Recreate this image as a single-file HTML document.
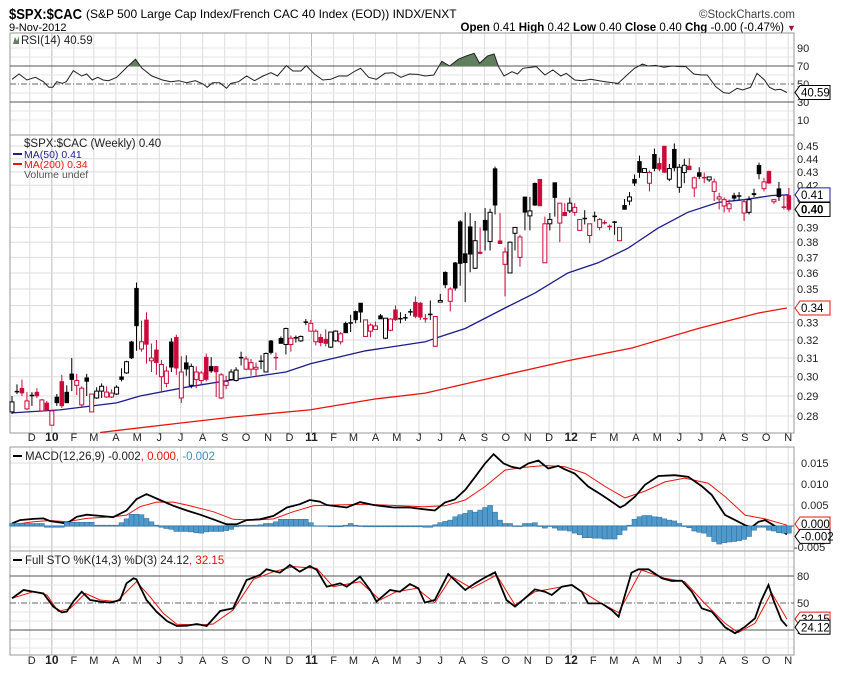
<!DOCTYPE html>
<html><head><meta charset="utf-8">
<style>
html,body{margin:0;padding:0;background:#fff;}
svg{display:block;font-family:"Liberation Sans",sans-serif;}
</style></head>
<body>
<svg id="chart" width="850" height="679" viewBox="0 0 850 679" xmlns="http://www.w3.org/2000/svg">
<rect x="0" y="0" width="850" height="679" fill="#fff"/>
<text x="9" y="19" font-size="15" font-weight="bold" textLength="73" lengthAdjust="spacingAndGlyphs">$SPX:$CAC</text>
<text x="86" y="18" font-size="12">(S&amp;P 500 Large Cap Index/French CAC 40 Index (EOD)) INDX/ENXT</text>
<text x="9" y="31" font-size="11">9-Nov-2012</text>
<text x="795" y="18" font-size="11.5" fill="#444" text-anchor="end">©StockCharts.com</text>
<text x="784" y="31" font-size="11.5" text-anchor="end"><tspan font-weight="bold">Open</tspan> 0.41 <tspan font-weight="bold">High</tspan> 0.42 <tspan font-weight="bold">Low</tspan> 0.40 <tspan font-weight="bold">Close</tspan> 0.40 <tspan font-weight="bold">Chg</tspan> -0.00 (-0.47%)</text>
<text x="787" y="31" font-size="9" fill="#a0143c">▼</text>
<g id="layer"></g>
</svg>
<script>
// ---------- data ----------
const openP=[.282,.2925,.294,.2835,.2905,.292,.2825,.2865,.2755,.2895,.2975,.292,.3015,.2955,.2855,.2995,.282,.289,.2925,.2895,.2895,.291,.300,.302,.319,.3505,.315,.3315,.3085,.3145,.300,.2965,.319,.3215,.289,.3075,.2955,.2985,.298,.3105,.3055,.3055,.289,.2955,.2985,.298,.3105,.304,.304,.304,.3085,.3025,.3195,.3105,.321,.3175,.3175,.3215,.3195,.3305,.325,.319,.3215,.3205,.316,.3195,.319,.3295,.330,.3365,.3415,.322,.325,.326,.334,.321,.3255,.3375,.3325,.333,.3365,.342,.3415,.3325,.335,.3165,.342,.3605,.3425,.3665,.394,.3725,.3905,.363,.3735,.395,.3805,.4325,.381,.3655,.360,.386,.370,.4115,.398,.4215,.4245,.3665,.3925,.422,.393,.4005,.4015,.4005,.388,.3965,.3845,.398,.390,.3935,.391,.394,.381,.4055,.4085,.4245,.438,.4295,.4215,.4435,.4365,.450,.4245,.4475,.4185,.4295,.4345,.418,.4295,.426,.424,.4155,.410,.405,.403,.4125,.4125,.400,.4005,.414,.435,.4175,.4305,.408,.4175,.4045,.4125];
const highP=[.290,.296,.2985,.292,.292,.294,.2885,.2875,.283,.291,.301,.2955,.310,.3015,.295,.3015,.291,.2945,.2965,.295,.2935,.2955,.3045,.3085,.3195,.354,.331,.336,.318,.320,.309,.3055,.321,.323,.311,.3115,.307,.3055,.303,.3125,.3105,.3055,.302,.3005,.304,.305,.3135,.311,.3095,.3075,.3115,.313,.320,.313,.322,.327,.3225,.3225,.3225,.332,.3315,.326,.3235,.326,.3245,.3255,.3245,.3305,.3345,.337,.3415,.3315,.3295,.3305,.335,.3325,.3325,.340,.336,.335,.338,.3455,.342,.335,.343,.3335,.347,.361,.351,.367,.395,.4005,.400,.3945,.390,.4035,.403,.434,.400,.3765,.3805,.390,.385,.4115,.4115,.422,.4245,.3975,.400,.422,.407,.407,.411,.407,.3955,.402,.3925,.401,.3965,.395,.392,.3945,.390,.410,.415,.428,.4425,.4325,.431,.448,.441,.450,.436,.452,.436,.440,.4405,.4265,.4335,.4295,.4265,.425,.4145,.411,.4095,.4145,.415,.4095,.412,.4175,.437,.4255,.431,.410,.4225,.4125,.418];
const lowP=[.281,.291,.290,.283,.285,.289,.282,.2825,.2755,.285,.284,.2865,.2925,.2905,.2845,.290,.282,.2885,.289,.289,.289,.2905,.2975,.3015,.3095,.314,.3135,.307,.3025,.301,.2925,.2945,.3025,.301,.2865,.3005,.294,.294,.296,.2975,.302,.2895,.2885,.2935,.298,.2975,.306,.3035,.3005,.300,.304,.3025,.312,.3035,.318,.312,.3135,.3185,.319,.3285,.325,.317,.3165,.3165,.3155,.319,.3175,.324,.3245,.3295,.330,.322,.3215,.326,.332,.3205,.325,.331,.3295,.331,.334,.3325,.3315,.330,.3315,.316,.342,.3505,.3365,.349,.352,.342,.3605,.3625,.372,.3745,.3745,.399,.379,.3455,.360,.3745,.364,.388,.388,.405,.405,.3665,.388,.3975,.380,.398,.400,.398,.388,.392,.3795,.394,.388,.392,.388,.385,.381,.4025,.4055,.4195,.4255,.4295,.4155,.4305,.4305,.4295,.423,.4305,.4145,.4215,.4315,.4115,.4245,.4215,.4225,.4085,.4025,.4005,.4005,.4085,.409,.3945,.399,.4115,.4245,.4155,.421,.4065,.4085,.4025,.401];
const closeP=[.287,.2925,.2915,.2875,.2905,.290,.288,.283,.2825,.2865,.285,.2865,.2985,.298,.294,.2975,.291,.2925,.295,.292,.2915,.2945,.2985,.308,.310,.328,.319,.3175,.310,.3075,.3065,.303,.305,.3045,.3025,.304,.3055,.3025,.302,.2985,.303,.3025,.301,.2975,.3025,.3035,.3105,.3095,.3075,.305,.3085,.3125,.313,.3105,.318,.3265,.321,.3215,.322,.3305,.3295,.325,.3185,.318,.3245,.325,.3235,.324,.330,.3315,.336,.3315,.3285,.328,.332,.3325,.332,.3315,.3325,.333,.3365,.3335,.333,.3325,.335,.3335,.343,.3525,.350,.3505,.366,.3665,.372,.381,.3725,.388,.4005,.4055,.379,.3735,.380,.390,.3835,.4005,.4015,.4055,.405,.3925,.3955,.411,.407,.398,.407,.404,.3955,.3965,.3925,.398,.3955,.3935,.3905,.394,.390,.4025,.4115,.4215,.4295,.4325,.4295,.4325,.432,.4295,.4325,.433,.4335,.435,.4315,.4255,.4265,.426,.4262,.4225,.4115,.4095,.4065,.4105,.4125,.408,.4095,.413,.4285,.4225,.4215,.4095,.4115,.4045,.4025];
const ma50Week=[0,9.6,21,25.7,35,44.5,55,60,71,83,85,91,99,105,111.6,117.7,123.7,129.7,135.7,141.8,147,152.6,156];
const ma50Val=[.2815,.283,.2865,.290,.2945,.2985,.3025,.307,.314,.319,.321,.3265,.3385,.3475,.360,.3665,.376,.3895,.4005,.4075,.4095,.4125,.413];
const ma200Week=[17.7,33.7,44.4,59.8,72.9,83,96.4,111.6,124.5,137.8,149.8,155.6];
const ma200Val=[.272,.2765,.2795,.283,.2885,.2915,.2995,.3085,.3155,.3265,.3355,.3385];
const rsiWeek=[0,1.4,3.0,4.7,6.3,7.4,8.2,9.0,10.1,10.9,12.3,14.0,15.0,16.1,17.2,18.3,19.4,21.0,23.2,24.8,26.1,28.1,30.2,31.9,33.5,35.1,36.8,38.4,39.2,40.3,41.7,43.1,43.9,45.5,47.1,48.7,50.4,52.0,53.3,55.1,56.4,58.0,59.1,60.7,62.4,64.0,65.6,67.3,68.9,70.0,71.6,73.2,74.9,76.5,78.1,79.8,81.4,83.0,84.7,86.3,87.9,89.6,91.2,92.8,93.9,95.5,96.8,97.7,98.8,100.4,101.5,102.6,104.3,105.3,107.0,108.6,110.2,111.3,113.0,114.6,116.2,117.9,119.5,121.7,123.3,125.0,126.6,127.7,129.3,130.9,132.6,134.2,135.3,136.9,138.5,139.6,141.3,142.9,144.0,145.6,146.7,148.3,149.6,151.1,152.1,153.2,154.3,155.6];
const rsiVal=[55.2,61.1,54.4,57.4,52.6,46.3,46.3,52.6,50.7,52.6,64.8,58.9,61.1,54.4,57.4,54.4,53.7,57.4,69.3,77.4,67.4,58.9,54.4,52.6,53.7,51.5,53.7,50.0,46.3,51.5,51.5,45.2,50.7,52.6,58.9,53.7,58.9,62.6,58.9,70.4,64.4,64.4,70.4,61.1,54.4,55.2,58.9,58.9,64.4,67.4,57.4,55.2,61.9,62.6,57.4,61.1,60.7,58.9,60.0,75.2,70.0,77.4,81.1,84.1,73.0,81.1,83.3,69.3,58.9,63.7,61.1,67.4,68.5,69.3,60.0,65.6,58.9,61.9,54.4,53.7,55.2,53.7,52.2,50.7,58.9,67.4,72.2,70.0,70.7,68.5,70.0,69.3,69.3,61.1,60.0,60.0,47.0,40.4,39.6,45.2,43.3,46.3,61.9,54.4,46.3,43.3,44.1,40.59];
const macdWeek=[0,1.6,4.3,6.3,7.6,11.0,13.0,15.0,17.7,20.3,23.0,25.0,27.0,29.7,32.4,35.1,37.8,40.4,43.1,45.1,47.1,49.8,52.5,55.2,57.8,59.8,61.8,63.2,67.2,69.9,72.6,76.6,79.9,82.6,84.9,86.9,88.9,91.0,93.0,95.0,96.7,98.7,100.3,102.0,103.7,105.7,107.7,109.7,111.0,113.0,115.7,118.4,120.4,122.1,123.1,125.1,127.1,129.8,133.1,135.8,138.5,140.5,143.2,145.2,147.2,148.5,149.9,151.2,153.2,155.6];
const macdVal=[0.6,1.4,1.7,1.8,1.2,0.6,2.2,2.7,2.4,2.1,3.7,6.4,7.6,6.2,4.8,3.7,2.7,1.6,0.4,0.4,1.4,1.6,2.4,4.4,5.2,6.2,5.8,5.0,4.4,5.7,5.0,4.4,4.4,4.0,3.7,5.6,6.3,8.6,11.7,14.9,17.1,14.9,14.1,13.7,14.9,15.6,13.7,14.3,13.5,12.5,9.4,7.4,5.8,4.4,5.0,7.0,9.8,11.9,12.1,11.7,9.5,7.4,2.6,1.4,0.2,-0.3,1.0,1.4,0,-2.0];
const signalWeek=[0,4.3,7.6,11.0,15.0,20.3,23.0,25.7,29.0,32.4,35.1,40.4,44.4,48.5,52.5,56.5,60.5,64.5,71.2,77.9,82.6,86.9,91.0,95.0,99.0,103.0,107.0,111.0,115.1,119.1,123.1,127.1,131.1,135.1,139.8,143.2,147.2,151.2,155.6];
const signalVal=[0.3,1.0,1.3,1.0,1.8,2.2,2.6,4.6,5.7,5.7,5.0,3.4,1.6,1.4,1.7,3.4,4.8,5.0,5.2,4.8,4.6,4.8,6.2,9.4,13.3,14.0,14.4,14.1,12.5,9.4,6.7,8.3,10.5,11.4,10.2,7.0,2.6,1.7,0.2];
const histVal=[0.6,0.6,0.6,0.6,0.6,0.6,0.6,-0.3,-0.3,-0.3,-0.3,0.9,0.9,0.9,0.9,0.9,0.9,0.2,0.2,0.2,0.2,0.2,0.8,1.7,2.8,2.8,2.7,1.8,1.0,0.2,-0.3,-0.6,-0.8,-1.3,-1.3,-1.3,-1.4,-1.6,-1.7,-1.4,-1.3,-1.3,-1.3,-1.1,-0.8,-0.2,0.2,0.2,0.2,0.2,0.3,0.6,0.6,1.0,1.6,1.6,1.6,1.6,1.6,1.6,0.8,0.05,0.05,0.05,-0.2,-0.2,-0.2,0.2,0.6,0.2,0,-0.2,-0.2,-0.2,-0.2,-0.2,-0.2,-0.2,-0.2,-0.2,-0.2,-0.2,-0.2,-0.3,-0.3,0.3,0.8,1.1,1.4,2.2,2.7,3.0,3.7,3.3,3.8,4.4,4.9,3.3,1.4,0.6,0.6,0,0,0.6,0.6,0.8,0,-0.5,0,-0.5,-1.0,-1.0,-1.2,-1.7,-2.1,-2.8,-2.8,-2.9,-2.9,-3.1,-3.1,-3.1,-2.1,-1.0,0.2,1.6,2.2,2.5,2.5,2.2,2.1,1.7,1.4,1.2,0.6,0,-0.4,-1.2,-1.5,-1.7,-2.5,-3.7,-4.3,-4.0,-3.8,-3.7,-3.5,-3.2,-2.5,-1.0,-0.3,-0.3,-1.0,-1.2,-1.6,-1.7,-1.7];
const stoKWeek=[0,2.3,4.3,6.3,8.3,10.0,11.0,12.3,14.0,15.7,17.7,19.7,21.7,23.0,24.4,25.0,27.0,29.0,31.1,33.1,35.1,37.1,39.1,41.8,44.4,47.1,49.8,51.1,53.8,55.8,57.8,59.8,61.2,63.2,65.9,67.2,69.9,71.9,73.2,75.9,77.9,79.9,81.6,82.9,84.9,87.6,91.0,93.0,95.0,97.0,99.3,101.0,103.0,105.0,107.0,108.4,110.4,112.4,114.4,115.7,118.4,120.4,121.8,124.4,125.8,127.8,130.5,132.5,134.5,136.5,138.5,140.5,143.2,145.2,147.2,149.2,150.5,151.9,152.9,154.5,155.6];
const stoKVal=[55.2,64.4,62.6,60.7,46.0,39.6,40.4,51.5,62.6,53.3,51.5,50.4,53.3,71.9,77.4,76.3,53.3,40.4,30.0,24.4,24.8,26.7,24.4,41.1,44.1,75.6,81.1,87.4,83.7,92.2,84.8,91.1,86.7,68.1,71.9,68.1,79.3,64.4,51.5,64.4,62.6,71.1,66.3,50.4,53.3,82.2,64.4,71.9,78.5,84.1,53.3,46.0,55.2,65.2,62.6,58.9,68.1,70.0,62.6,49.6,49.6,42.2,34.8,83.7,87.4,87.4,77.4,74.4,74.8,62.6,44.1,40.4,23.0,16.3,23.7,33.0,53.3,70.0,53.3,31.1,24.12];
const stoDWeek=[0,4.3,7.0,9.3,11.7,14.7,17.7,21.0,25.0,27.7,30.4,33.1,37.8,40.4,44.4,48.5,52.5,56.5,61.2,64.5,69.9,73.9,77.2,81.3,82.9,84.9,88.3,92.3,97.3,101.0,105.0,112.4,117.7,121.8,126.4,131.1,135.1,139.1,143.2,145.8,149.2,152.5,155.6];
const stoDVal=[55.2,62.6,58.9,40.4,44.1,60.7,53.3,51.5,73.7,57.0,38.5,26.3,25.6,26.7,42.2,76.3,84.8,90.4,88.5,68.1,73.7,53.3,62.6,66.3,58.9,50.4,79.3,66.3,81.1,47.8,62.6,70.0,51.5,39.3,86.7,77.4,73.7,49.6,27.4,17.0,27.4,61.5,32.15];
const priceTicks=[0.28,0.29,0.30,0.31,0.32,0.33,0.34,0.35,0.36,0.37,0.38,0.39,0.40,0.41,0.42,0.43,0.44,0.45];
const rsiTicks=[10,30,50,70,90];
const macdTicks=[-5,0,5,10,15];
const stoTicks=[20,50,80];
const monthLabels=["D","10","F","M","A","M","J","J","A","S","O","N","D","11","F","M","A","M","J","J","A","S","O","N","D","12","F","M","A","M","J","J","A","S","O","N"];

// ---------- scales ----------
const L=10,R=794;
const xW=i=>12+i*4.98;
const yP=p=>146+569*Math.log(0.45/p);
const yRSI=v=>129-0.9*v;
const yMACD=v=>526-v*4.2;
const ySTO=v=>648-0.9*v;
const startDate=Date.UTC(2009,10,6);
const xDate=(y,m)=>xW((Date.UTC(y,m,1)-startDate)/864e5/7);

const NS="http://www.w3.org/2000/svg";
const layer=document.getElementById('layer');
function mk(tag,attrs,parent){const e=document.createElementNS(NS,tag);for(const k in attrs)e.setAttribute(k,attrs[k]);(parent||layer).appendChild(e);return e;}
function grp(name){const g=document.createElementNS(NS,'g');


layer.appendChild(g);return g;}
function poly(ws,vs,yf){return ws.map((w,k)=>xW(w).toFixed(1)+','+yf(vs[k]).toFixed(1)).join(' ');}

const panels=[[33,135],[135,433],[447,551],[551,655]];
const gv=grp('vertical-gridlines');
const monthX=[];
for(let k=0;k<monthLabels.length;k++){const mi=11+k;const yr=2009+Math.floor(mi/12);const m=mi%12;monthX.push(xDate(yr,m));}
monthX.forEach((x,k)=>{const yr=monthLabels[k].length>1;panels.forEach(p=>{mk('line',{x1:x,x2:x,y1:p[0],y2:p[1],stroke:yr?'#bbb':'#ddd','stroke-width':1},gv);});});

const gh=grp('horizontal-gridlines');
priceTicks.forEach(t=>mk('line',{x1:L,x2:R,y1:yP(t),y2:yP(t),stroke:'#ddd'},gh));
[10,20,40,60,80,90].forEach(t=>mk('line',{x1:L,x2:R,y1:yRSI(t),y2:yRSI(t),stroke:'#e4e4e4'},gh));
[-5,5,10,15].forEach(t=>mk('line',{x1:L,x2:R,y1:yMACD(t),y2:yMACD(t),stroke:'#ddd'},gh));
[0,10,30,40,60,70,90,100].forEach(t=>mk('line',{x1:L,x2:R,y1:ySTO(t),y2:ySTO(t),stroke:'#e4e4e4'},gh));

const gf=grp('panel-frames');
panels.forEach(p=>{mk('rect',{x:L,y:p[0],width:R-L,height:p[1]-p[0],fill:'none',stroke:'#999'},gf);});

[[441,'month-labels-top'],[664,'month-labels-bottom']].forEach(([yy,nm])=>{const g=grp(nm);monthX.forEach((x,k)=>{const t=mk('text',{x:x+(k===0?2:0),y:yy,'font-size':monthLabels[k].length>1?12:11,'font-weight':monthLabels[k].length>1?'bold':'normal','text-anchor':'middle',fill:'#222'},g);t.textContent=monthLabels[k];});});

// ---------- RSI ----------
const gr=grp('rsi-panel');
[30,70].forEach(v=>mk('line',{x1:L,x2:R,y1:yRSI(v),y2:yRSI(v),stroke:'#555'},gr));
mk('line',{x1:L,x2:R,y1:yRSI(50),y2:yRSI(50),stroke:'#666','stroke-dasharray':'6,2,1,2'},gr);
const cp=mk('clipPath',{id:'above70'},gr);mk('rect',{x:L,y:33,width:R-L,height:yRSI(70)-33},cp);
const rsiFill=mk('polygon',{points:xW(rsiWeek[0])+','+yRSI(70)+' '+poly(rsiWeek,rsiVal,yRSI)+' '+xW(rsiWeek[rsiWeek.length-1])+','+yRSI(70),fill:'#5f7f5f','clip-path':'url(#above70)'},gr);


const rsiLine=mk('polyline',{points:poly(rsiWeek,rsiVal,yRSI),fill:'none',stroke:'#222','stroke-width':1},gr);


rsiTicks.forEach(t=>{const e=mk('text',{x:797,y:yRSI(t)+4,'font-size':11,fill:'#222'},gr);e.textContent=t;});
(function(){const t=mk('text',{x:21,y:44,'font-size':11.5,fill:'#222'},gr);t.textContent='RSI(14) 40.59';mk('polygon',{points:'13,44 15,37 17,41 19,36 19,44',fill:'#5f7f5f'},gr);})();

// ---------- price ----------
const gp=grp('price-panel');
const ma200=mk('polyline',{points:poly(ma200Week,ma200Val,yP),fill:'none',stroke:'#e8140c','stroke-width':1.3},gp);


const ma50=mk('polyline',{points:poly(ma50Week,ma50Val,yP),fill:'none',stroke:'#1c1c8c','stroke-width':1.3},gp);


const gc=grp('candles');
closeP.forEach((c,i)=>{
  const o=openP[i],h=highP[i],l=lowP[i];const prev=i>0?closeP[i-1]:c;
  const col=c<prev?'#cc0a3a':'#000';const x=xW(i);
  const g=document.createElementNS(NS,'g');
  
  
  gc.appendChild(g);
  mk('line',{x1:x,x2:x,y1:yP(h),y2:yP(l),stroke:col,'stroke-width':1},g);
  const top=yP(Math.max(o,c)),bot=yP(Math.min(o,c));
  const hollow=c>o;
  mk('rect',{x:x-2,y:top,width:4,height:Math.max(bot-top,1),fill:hollow?'#fff':col,stroke:col,'stroke-width':hollow?1:0.5},g);
});
priceTicks.forEach(t=>{const e=mk('text',{x:797,y:yP(t)+4,'font-size':11,fill:'#222'},gp);e.textContent=t.toFixed(2);});
function tag(g,y,txt,col,bold,fill){mk('polygon',{points:`795,${y} 800,${y-7} 830,${y-7} 830,${y+7} 800,${y+7}`,fill:fill||'#fff',stroke:col},g);const e=mk('text',{x:801,y:y+4,'font-size':11.5,'font-weight':bold?'bold':'normal',fill:'#000'},g);e.textContent=txt;}
const gtags=grp('price-value-tags');
tag(gtags,yP(0.413),'0.41','#1c1c8c');
tag(gtags,yP(0.4025),'0.40','#000',true);
tag(gtags,yP(0.3385),'0.34','#e8140c');
const gl=grp('price-legend');
[['$SPX:$CAC (Weekly) 0.40','#222',147],['MA(50) 0.41','#1c1c8c',158],['MA(200) 0.34','#e8140c',168],['Volume undef','#555',178]].forEach(([t,c,y],k)=>{const e=mk('text',{x:24,y:y,'font-size':k==0?11.5:10.5,fill:c},gl);e.textContent=t;if(k==1||k==2)mk('line',{x1:13,x2:22,y1:y-4,y2:y-4,stroke:c,'stroke-width':2},gl);});

// ---------- MACD ----------
const gm=grp('macd-panel');
const gb=grp('macd-histogram');
histVal.forEach((v,i)=>{const x=xW(i);const y0=yMACD(0),y1=yMACD(v);
 const b=mk('rect',{x:x-2.5,y:Math.min(y0,y1),width:5,height:Math.max(Math.abs(y1-y0),0.5),fill:'#4f9acb',stroke:'#2d6d9e','stroke-width':0.5},gb);
 
 });
mk('line',{x1:L,x2:R,y1:yMACD(0),y2:yMACD(0),stroke:'#2d6d9e','stroke-width':1},gm);
const sig=mk('polyline',{points:poly(signalWeek,signalVal,yMACD),fill:'none',stroke:'#e8140c','stroke-width':1},gm);


const mac=mk('polyline',{points:poly(macdWeek,macdVal,yMACD),fill:'none',stroke:'#000','stroke-width':1.8},gm);


macdTicks.forEach(t=>{if(t===0)return;const e=mk('text',{x:t<0?794:801,y:yMACD(t)+4,'font-size':11,fill:'#222'},gm);e.textContent=(t/1000).toFixed(3);});
tag(gm,yMACD(0)-2,'0.000','#e8140c');
tag(gm,yMACD(-2)+2,'-0.002','#000');
(function(){mk('line',{x1:13,x2:22,y1:456,y2:456,stroke:'#000','stroke-width':2},gm);const t=mk('text',{x:25,y:460,'font-size':11.5,fill:'#222'},gm);t.innerHTML='MACD(12,26,9) -0.002<tspan fill="#e8140c">, 0.000</tspan><tspan fill="#3a8fc4">, -0.002</tspan>';})();

// ---------- STO ----------
const gs=grp('stochastic-panel');
[20,80].forEach(v=>mk('line',{x1:L,x2:R,y1:ySTO(v),y2:ySTO(v),stroke:'#555'},gs));
mk('line',{x1:L,x2:R,y1:ySTO(50),y2:ySTO(50),stroke:'#666','stroke-dasharray':'6,2,1,2'},gs);
const sd=mk('polyline',{points:poly(stoDWeek,stoDVal,ySTO),fill:'none',stroke:'#e8140c','stroke-width':1},gs);


const sk=mk('polyline',{points:poly(stoKWeek,stoKVal,ySTO),fill:'none',stroke:'#000','stroke-width':1.8},gs);


stoTicks.forEach(t=>{const e=mk('text',{x:797,y:ySTO(t)+4,'font-size':11,fill:'#222'},gs);e.textContent=t;});
tag(gs,ySTO(32.15),'32.15','#e8140c');
tag(gs,ySTO(24.12)+1,'24.12','#000');
(function(){mk('line',{x1:13,x2:22,y1:560,y2:560,stroke:'#000','stroke-width':2},gs);const t=mk('text',{x:25,y:564,'font-size':11.5,fill:'#222'},gs);t.innerHTML='Full STO %K(14,3) %D(3) 24.12<tspan fill="#e8140c">, 32.15</tspan>';})();
tag(gr,yRSI(40.59),'40.59','#000');
</script>
</body></html>
